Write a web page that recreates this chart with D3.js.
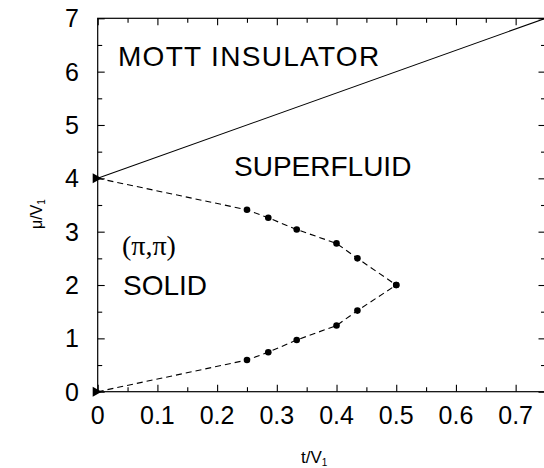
<!DOCTYPE html>
<html><head><meta charset="utf-8">
<script src="https://cdn.jsdelivr.net/npm/d3@7"></script>
<style>body{margin:0;background:#fff}</style></head><body>
<svg id="c" width="544" height="468"></svg>
<script>
// ---- data ----
const upperT  = [0, 0.25, 0.2857, 0.3333, 0.4, 0.435, 0.5];
const upperMu = [4, 3.41, 3.26, 3.04, 2.78, 2.50, 2.0];
const lowerT  = [0, 0.25, 0.2857, 0.3333, 0.4, 0.435, 0.5];
const lowerMu = [0, 0.594, 0.74, 0.97, 1.24, 1.52, 2.0];
const mottT   = [0, 0.75];
const mottMu  = [4, 7];
const triT    = [0, 0];
const triMu   = [4, 0];
const xTickVals   = [0, 0.1, 0.2, 0.3, 0.4, 0.5, 0.6, 0.7];
const xTickLabels = ["0", "0.1", "0.2", "0.3", "0.4", "0.5", "0.6", "0.7"];
const yTickVals   = [0, 1, 2, 3, 4, 5, 6, 7];
const yTickLabels = ["0", "1", "2", "3", "4", "5", "6", "7"];
const regionLabels = ["MOTT INSULATOR", "SUPERFLUID", "SOLID"];

// ---- layout ----
const svg = d3.select("#c");
const x = d3.scaleLinear().domain([0, 0.75]).range([97.7, 545.5]);
const y = d3.scaleLinear().domain([0, 7]).range([391.7, 18.3]);
const sans = "'Liberation Sans', Arial, Helvetica, sans-serif";
const serif = "'Liberation Serif', 'Times New Roman', serif";

const g = svg.append("g");

// frame
g.append("rect").attr("x", x(0)).attr("y", y(7))
  .attr("width", x(0.75) - x(0)).attr("height", y(0) - y(7))
  .attr("fill", "none").attr("stroke", "#000").attr("stroke-width", 1.2);

// axes using d3 axis generators (ticks inward, no labels)
const minorX = d3.range(0, 0.751, 0.05);
const minorY = d3.range(0, 7.01, 0.5);
function styleAxis(sel) {
  sel.select(".domain").remove();
  sel.selectAll("line").attr("stroke", "#000").attr("stroke-width", 1.1);
  sel.selectAll("text").remove();
}
function isMajor(v, step) { return Math.abs(v / step - Math.round(v / step)) < 1e-6; }

// bottom
g.append("g").attr("transform", `translate(0,${y(0)})`)
  .call(d3.axisTop(x).tickValues(minorX).tickSizeInner(0).tickSizeOuter(0))
  .call(styleAxis)
  .selectAll(".tick line").attr("y2", d => isMajor(d, 0.1) ? -7 : -4.5);
// top
g.append("g").attr("transform", `translate(0,${y(7)})`)
  .call(d3.axisBottom(x).tickValues(minorX).tickSizeInner(0).tickSizeOuter(0))
  .call(styleAxis)
  .selectAll(".tick line").attr("y2", d => isMajor(d, 0.1) ? 7 : 4.5);
// left
g.append("g").attr("transform", `translate(${x(0)},0)`)
  .call(d3.axisRight(y).tickValues(minorY).tickSizeInner(0).tickSizeOuter(0))
  .call(styleAxis)
  .selectAll(".tick line").attr("x2", d => isMajor(d, 1) ? 7 : 4.5);
// right
g.append("g").attr("transform", `translate(${x(0.75)},0)`)
  .call(d3.axisLeft(y).tickValues(minorY).tickSizeInner(0).tickSizeOuter(0))
  .call(styleAxis)
  .selectAll(".tick line").attr("x2", d => isMajor(d, 1) ? -7 : -4.5);

// tick labels
g.selectAll(".xl").data(xTickVals).enter().append("text")
  .attr("x", d => x(d)).attr("y", 424)
  .attr("text-anchor", "middle")
  .attr("font-family", sans).attr("font-size", 25)
  .text((d, i) => xTickLabels[i]);
g.selectAll(".yl").data(yTickVals).enter().append("text")
  .attr("x", 79).attr("y", d => y(d) + 9)
  .attr("text-anchor", "end")
  .attr("font-family", sans).attr("font-size", 25)
  .text((d, i) => yTickLabels[i]);

// axis titles
const xt = g.append("text").attr("x", 301).attr("y", 463)
  .attr("font-family", sans).attr("font-size", 17);
xt.append("tspan").text("t/V");
xt.append("tspan").attr("font-size", 10).attr("dy", 3).text("1");

const yt = g.append("text").attr("transform", "translate(42,229) rotate(-90)")
  .attr("font-family", sans).attr("font-size", 16);
yt.append("tspan").text("μ/V");
yt.append("tspan").attr("font-size", 10).attr("dy", 3).text("1");

// lines
const line = d3.line().x(d => x(d[0])).y(d => y(d[1]));
const upper = upperT.map((t, i) => [t, upperMu[i]]);
const lower = lowerT.map((t, i) => [t, lowerMu[i]]);
const mott = mottT.map((t, i) => [t, mottMu[i]]);

g.append("path").datum(mott).attr("d", line)
  .attr("fill", "none").attr("stroke", "#000").attr("stroke-width", 1.1);
[upper, lower].forEach(data => {
  g.append("path").datum(data).attr("d", line)
    .attr("fill", "none").attr("stroke", "#000").attr("stroke-width", 1.1)
    .attr("stroke-dasharray", "6,4");
  g.selectAll(null).data(data.filter(d => d[0] > 0)).enter().append("circle")
    .attr("cx", d => x(d[0])).attr("cy", d => y(d[1])).attr("r", 3.3)
    .attr("fill", "#000");
});

// triangle markers
const tri = triT.map((t, i) => [t, triMu[i]]);
g.selectAll(".tri").data(tri).enter().append("path")
  .attr("d", d => {
    const cx = x(d[0]), cy = y(d[1]);
    return `M${cx - 5},${cy - 5}L${cx + 4},${cy}L${cx - 5},${cy + 5}Z`;
  })
  .attr("fill", "#000");

// region labels
g.append("text").attr("x", 118).attr("y", 66)
  .attr("font-family", sans).attr("font-size", 28)
  .attr("letter-spacing", 1.3).text(regionLabels[0]);
g.append("text").attr("x", 234).attr("y", 176)
  .attr("font-family", sans).attr("font-size", 28).text(regionLabels[1]);
g.append("text").attr("x", 122).attr("y", 255)
  .attr("font-family", serif).attr("font-size", 28).text("(π,π)");
g.append("text").attr("x", 123).attr("y", 295)
  .attr("font-family", sans).attr("font-size", 28).text(regionLabels[2]);
</script>
</body></html>
